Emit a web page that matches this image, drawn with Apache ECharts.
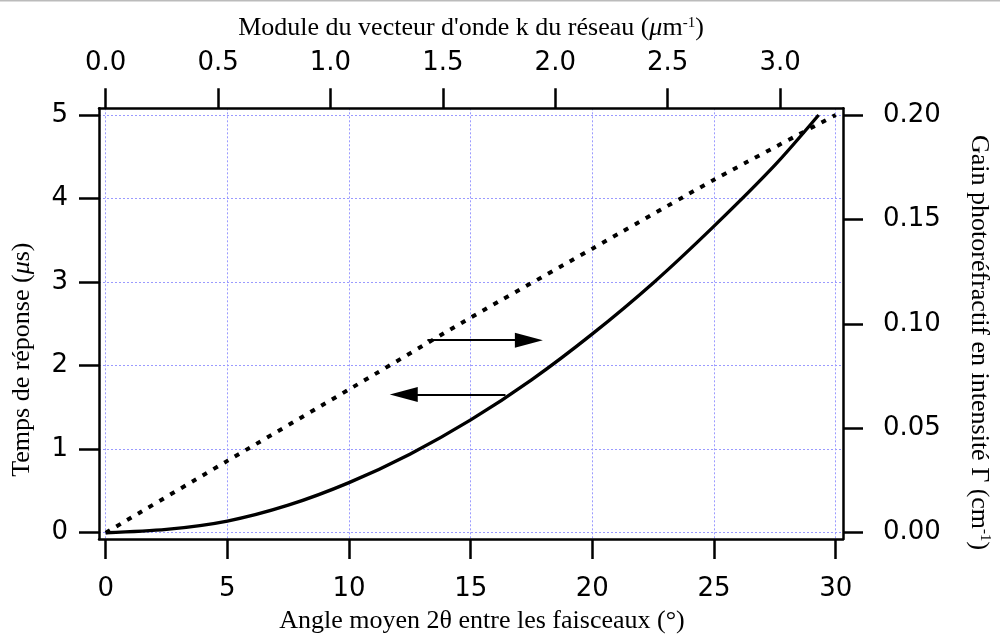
<!DOCTYPE html>
<html>
<head>
<meta charset="utf-8">
<script src="https://cdn.jsdelivr.net/npm/echarts@6/dist/echarts.min.js"></script>
<style>
html,body{margin:0;padding:0;background:#fff;}
#chart{width:1000px;height:639px;}
</style>
</head>
<body>
<div id="chart"></div>
<script>
// Angle moyen 2θ (°) vs temps de réponse (µs) — solid curve, left axis
var timeAngles = [0, 2.5, 5, 7.5, 10, 12.5, 15, 17.5, 20, 22.5, 25, 27.5, 29.3];
var timeValues = [0, 0.04, 0.14, 0.33, 0.6, 0.94, 1.35, 1.83, 2.38, 2.99, 3.67, 4.40, 5.0];
// Angle moyen 2θ (°) vs gain Γ (cm-1) — dotted line, right axis
var gainAngles = [0, 5, 10, 15, 20, 25, 30];
var gainValues = [0, 0.0344, 0.0686, 0.103, 0.136, 0.169, 0.2];
// tick labels
var bottomTicks = [0, 5, 10, 15, 20, 25, 30];
var topTicks = [0, 0.5, 1.0, 1.5, 2.0, 2.5, 3.0];
var leftTicks = [0, 1, 2, 3, 4, 5];
var rightTicks = [0, 0.05, 0.10, 0.15, 0.20];
// annotation arrows [x, y] in angle / time units: tail, head
var arrowToGain = [[13.22, 2.305], [17.39, 2.305]];
var arrowToTime = [[16.43, 1.656], [12.25, 1.656]];

var tickFont = {fontFamily: 'DejaVu Sans', fontSize: 26, color: '#000'};
var titleFont = 'Liberation Serif';
var gridStyle = {show: true, lineStyle: {color: '#9a9aff', width: 1, type: [2, 2]}};
var lineAxis = {show: true, onZero: false, lineStyle: {color: '#000', width: 2.5}};
var tickStyle = function (vals) {
  return {show: true, inside: false, length: 20, lineStyle: {color: '#000', width: 2.5}, customValues: vals};
};
var rich = {
  mu: {fontFamily: titleFont, fontSize: 26, fontStyle: 'italic', color: '#000'},
  sup: {fontFamily: titleFont, fontSize: 15, verticalAlign: 'top', lineHeight: 15, color: '#000'}
};

var chart = echarts.init(document.getElementById('chart'), null, {renderer: 'canvas'});
chart.setOption({
  animation: false,
  backgroundColor: '#fff',
  graphic: [{type: 'line', shape: {x1: 0, y1: 0.5, x2: 1000, y2: 0.5}, style: {stroke: '#bbb', lineWidth: 2}}],
  grid: {left: 99, right: 155, top: 108.3, bottom: 99, containLabel: false},
  xAxis: [{
    type: 'value', position: 'bottom', min: -0.275, max: 30.3,
    axisLine: lineAxis, axisTick: tickStyle(bottomTicks),
    axisLabel: Object.assign({margin: 37, customValues: bottomTicks}, tickFont),
    splitLine: gridStyle,
    name: 'Angle moyen 2θ entre les faisceaux (°)', nameLocation: 'middle', nameGap: 69,
    nameTextStyle: {fontFamily: titleFont, fontSize: 26, color: '#000', padding: [0, 0, 0, 22]}
  }, {
    type: 'value', position: 'top', min: -0.0297, max: 3.28,
    axisLine: lineAxis, axisTick: tickStyle(topTicks),
    axisLabel: Object.assign({margin: 32, customValues: topTicks, formatter: function (v) { return v.toFixed(1); }}, tickFont),
    splitLine: {show: false},
    name: 'Module du vecteur d\'onde k du réseau ({mu|μ}m{sup|-1})', nameLocation: 'middle', nameGap: 67,
    nameTextStyle: {fontFamily: titleFont, fontSize: 26, color: '#000', rich: rich}
  }],
  yAxis: [{
    type: 'value', position: 'left', min: -0.075, max: 5.08,
    axisLine: lineAxis, axisTick: tickStyle(leftTicks),
    axisLabel: Object.assign({margin: 31, customValues: leftTicks}, tickFont),
    splitLine: gridStyle,
    name: 'Temps de réponse ({mu|μ}s)', nameLocation: 'middle', nameGap: 64, nameRotate: 90,
    nameTextStyle: {fontFamily: titleFont, fontSize: 26, color: '#000', rich: rich, padding: [0, 72, 0, 0]}
  }, {
    type: 'value', position: 'right', min: -0.003, max: 0.2032,
    axisLine: lineAxis, axisTick: tickStyle(rightTicks),
    axisLabel: Object.assign({margin: 40, customValues: rightTicks, formatter: function (v) { return v.toFixed(2); }}, tickFont),
    splitLine: {show: false},
    name: 'Gain photoréfractif en intensité Γ (cm{sup|-1})', nameLocation: 'middle', nameGap: 123, nameRotate: -90,
    nameTextStyle: {fontFamily: titleFont, fontSize: 26, color: '#000', rich: rich, padding: [0, 0, 0, 38]}
  }],
  series: [{
    name: 'temps', type: 'line', xAxisIndex: 0, yAxisIndex: 0,
    data: timeAngles.map(function (a, i) { return [a, timeValues[i]]; }),
    smooth: 0.3, showSymbol: false, silent: true,
    lineStyle: {color: '#000', width: 3.3},
    markLine: {
      silent: true, animation: false,
      symbol: ['none', 'triangle'], symbolSize: [15, 28],
      label: {show: false},
      lineStyle: {color: '#000', width: 2, type: 'solid'},
      data: [
        [{coord: arrowToGain[0]}, {coord: arrowToGain[1]}],
        [{coord: arrowToTime[0]}, {coord: arrowToTime[1]}]
      ]
    }
  }, {
    name: 'gain', type: 'line', xAxisIndex: 0, yAxisIndex: 1,
    data: gainAngles.map(function (a, i) { return [a, gainValues[i]]; }),
    smooth: 0.2, showSymbol: false, silent: true,
    lineStyle: {color: '#000', width: 4, type: [5, 7.5], cap: 'butt'}
  }]
});
</script>
</body>
</html>
